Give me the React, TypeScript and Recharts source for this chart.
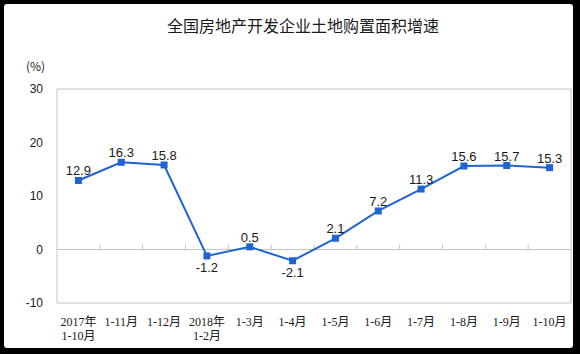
import React from 'react';
import { LineChart, Line, XAxis, YAxis, ReferenceLine, ReferenceArea } from 'recharts';

const categories = ['2017年\n1-10月', '1-11月', '1-12月', '2018年\n1-2月', '1-3月', '1-4月', '1-5月', '1-6月', '1-7月', '1-8月', '1-9月', '1-10月'];
const growth = [12.9, 16.3, 15.8, -1.2, 0.5, -2.1, 2.1, 7.2, 11.3, 15.6, 15.7, 15.3];
const yTicks = [-10, 0, 10, 20, 30];
const title = '全国房地产开发企业土地购置面积增速';
const unit = '(%)';

const data = categories.map((c, i) => ({ name: c, value: growth[i] }));

const BLUE = '#1e64d2';
const GRID = '#c4c4c4';
const CJK = '"Noto Sans CJK SC", "Noto Sans", sans-serif';
const SANS = '"Liberation Sans", Arial, sans-serif';
const SERIF = '"Liberation Serif", "Noto Sans CJK SC", serif';

const XTick = (props: any) => {
  const { x, y, payload } = props;
  const lines = String(payload.value).split('\n');
  return (
    <text x={x} y={y} textAnchor="middle" fontSize={12} fill="#1a1a1a" fontFamily={SERIF}>
      {lines.map((l, i) => (
        <tspan key={i} x={x} dy={i === 0 ? 15 : 14}>{l}</tspan>
      ))}
    </text>
  );
};

const ZeroLine = (p: any) => {
  const { x1, y1, x2, y2 } = p;
  const n = categories.length;
  const step = (x2 - x1) / n;
  const ticks = [];
  for (let i = 1; i < n; i++) {
    ticks.push(<line key={i} x1={x1 + step * i} x2={x1 + step * i} y1={y1} y2={y1 - 5} stroke={GRID} strokeWidth={1} />);
  }
  return (
    <g>
      <line x1={x1} y1={y1} x2={x2} y2={y2} stroke={GRID} strokeWidth={1} />
      {ticks}
    </g>
  );
};

const Dot = (props: any) => {
  const { cx, cy, payload, index } = props;
  if (cx == null || cy == null) return <g key={index} />;
  const v = payload.value;
  const below = v < 0;
  return (
    <g key={index}>
      <rect x={cx - 3.5} y={cy - 3.5} width={7} height={7} fill={BLUE} />
      <text x={cx} y={below ? cy + 16 : cy - 5} textAnchor="middle" fontSize={13} fill="#1a1a1a" fontFamily={SANS}>
        {v}
      </text>
    </g>
  );
};

export default function App() {
  return (
    <div style={{ position: 'absolute', left: 0, top: 0, width: 580, height: 354, background: '#000' }}>
      <div style={{ position: 'absolute', left: 4, top: 4, width: 569, height: 344, background: '#fff', borderRadius: 3 }} />
      <div style={{ position: 'absolute', left: 167, top: 16, fontSize: 16, lineHeight: '18px', fontFamily: CJK, color: '#1a1a1a', whiteSpace: 'nowrap' }}>
        {title}
      </div>
      <div style={{ position: 'absolute', left: 26, top: 59, fontSize: 12, lineHeight: '14px', fontFamily: CJK, color: '#1a1a1a', whiteSpace: 'nowrap' }}>
        {unit}
      </div>
      <div style={{ position: 'absolute', left: 0, top: 0 }}>
        <LineChart width={580} height={354} data={data} margin={{ top: 89, right: 9, bottom: 0, left: 0 }}>
          <ReferenceArea y1={-10} y2={30} fill="none" stroke={GRID} strokeWidth={1} ifOverflow="visible" />
          <XAxis dataKey="name" scale="band" height={51} axisLine={false} tickLine={false} interval={0} tick={<XTick />} tickSize={0} tickMargin={8} />
          <YAxis domain={[-10, 30]} ticks={yTicks} width={57} axisLine={false} tickLine={false} tickSize={6} tickMargin={8}
            tick={{ fontSize: 12, fill: '#1a1a1a', fontFamily: SANS }} />
          <ReferenceLine y={0} shape={<ZeroLine />} />
          <Line type="linear" dataKey="value" stroke={BLUE} strokeWidth={2} dot={<Dot />} activeDot={false} isAnimationActive={false} />
        </LineChart>
      </div>
    </div>
  );
}
